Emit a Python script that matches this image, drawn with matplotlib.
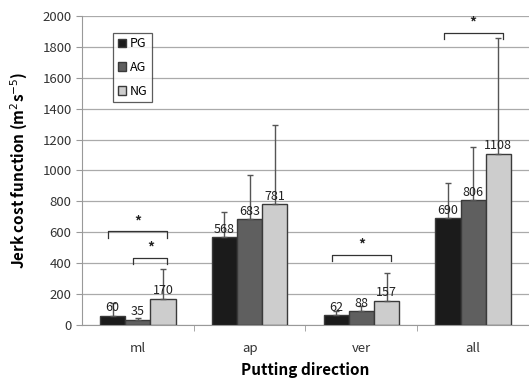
import numpy as np
import matplotlib
matplotlib.use("Agg")
import matplotlib.pyplot as plt

plt.rcParams['font.family'] = ['Noto Sans CJK KR', 'DejaVu Sans']

categories = ["ml", "ap", "ver", "all"]
groups = ["PG", "AG", "NG"]
pg = [60, 568, 62, 690]
ag = [35, 683, 88, 806]
ng = [170, 781, 157, 1108]
pg_sd = [85, 165, 29, 227]
ag_sd = [12, 290, 35, 345]
ng_sd = [190, 511, 183, 751]

# significance brackets: (category, from group, to group, height)
brackets = [(0, 0, 2, 606), (0, 1, 2, 437), (2, 0, 2, 454), (3, 0, 2, 1892)]

colors = ["#1b1b1b", "#5f5f5f", "#cdcdcd"]

fig = plt.figure(figsize=(5.29, 3.78), dpi=100)
ax = fig.add_axes([0.155, 0.140, 0.845, 0.818])

x = np.arange(len(categories))
w = 0.225
vals = [pg, ag, ng]
sds = [pg_sd, ag_sd, ng_sd]
for i in range(3):
    xi = x + (i - 1) * w
    ax.bar(xi, vals[i], w, color=colors[i], edgecolor="#3a3a3a", linewidth=1.0,
           label=groups[i], zorder=3)
    ax.errorbar(xi, vals[i], yerr=[np.zeros(4), sds[i]], fmt="none",
                ecolor="#555555", elinewidth=1.0, capsize=2, capthick=1.0, zorder=4)
    for xx, v in zip(xi, vals[i]):
        ax.text(xx, v + 10, str(v), ha="center", va="bottom", fontsize=9,
                color="#222222", zorder=5)

for c, g1, g2, h in brackets:
    x1 = c + (g1 - 1) * w - 0.04
    x2 = c + (g2 - 1) * w + 0.04
    ax.plot([x1, x1, x2, x2], [h - 40, h, h, h - 40], color="#333333", lw=0.9, zorder=5)
    ax.text((x1 + x2) / 2, h + 20, "*", ha="center", va="bottom", fontsize=10,
            fontweight="bold", color="#222222")

ax.set_xlim(-0.5, 3.5)
ax.set_ylim(0, 2000)
ax.set_yticks(np.arange(0, 2001, 200))
ax.set_xticks(x)
ax.set_xticklabels(categories)
ax.set_xticks(np.arange(0.5, 3.5, 1), minor=True)
ax.tick_params(axis="x", which="major", length=0, labelsize=9.5, pad=12, colors="#333333")
ax.tick_params(axis="x", which="minor", length=4, color="#999999")
ax.tick_params(axis="y", length=4, color="#999999", labelsize=9.5, colors="#333333")
ax.yaxis.grid(True, color="#aaaaaa", lw=0.9, zorder=0)
for s in ["top", "right"]:
    ax.spines[s].set_visible(False)
for s in ["left", "bottom"]:
    ax.spines[s].set_color("#999999")

ax.set_ylabel("Jerk cost function (m$^2$s$^{-5}$)", fontsize=11, fontweight="bold", labelpad=9)
ax.set_xlabel("Putting direction", fontsize=11, fontweight="bold", labelpad=5)

leg = ax.legend(loc="upper left", bbox_to_anchor=(0.07, 0.945), frameon=True, fancybox=False,
                edgecolor="#333333", fontsize=9, handlelength=0.7, handleheight=0.7,
                handletextpad=0.3, labelspacing=0.85, borderpad=0.35, borderaxespad=0)
leg.get_frame().set_linewidth(0.9)

fig.savefig("out.png", dpi=100)
